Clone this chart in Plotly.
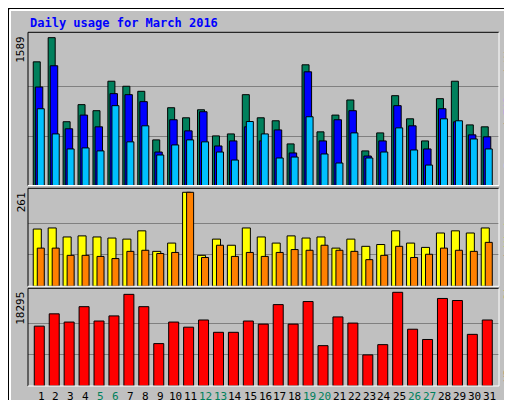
import plotly.graph_objects as go

days = list(range(1, 32))
weekend = [5, 6, 12, 13, 19, 20, 26, 27]
hits = [1326,1585,684,867,802,1118,1064,1010,489,834,726,812,532,553,974,726,694,446,1294,575,755,917,371,564,963,715,478,931,1118,650,629]
files = [1056,1284,608,755,629,985,974,899,359,705,586,791,424,478,629,478,596,349,1219,478,705,802,316,478,856,640,392,823,683,543,522]
pages = [823,553,392,403,371,856,468,640,327,435,489,468,359,273,686,553,295,305,737,338,241,564,295,359,618,381,219,715,694,499,392]
visits = [159,162,137,140,137,134,131,154,97,120,261,86,131,114,162,137,120,140,134,137,106,131,111,116,154,120,108,148,154,148,162]
sites = [106,106,86,86,83,77,97,100,91,94,261,80,114,83,94,83,94,102,100,114,100,97,74,86,111,80,89,106,100,97,122]
kbytes = [11685,14089,12486,15491,12686,13687,17894,15491,8279,12486,11485,12886,10484,10484,12686,12085,15891,12085,16491,7879,13487,12286,6077,8078,18295,11084,9080,17093,16692,10084,12886]
maxes = [1589, 261, 18295]

W, H = 512, 400
def px(x): return x / W
def py(y): return 1 - y / H

X0, X1 = 20, 491
panels = [(24.3, 177.5), (180.3, 278.3), (280.3, 378.0)]
x_range = [1 - 13 / 14.93, 31 + 10 / 14.93]

fig = go.Figure()
def bars(vals, color, off, w, ax):
    fig.add_trace(go.Bar(x=days, y=vals, offset=off, width=w, marker_color=color,
                         marker_line_color="black", marker_line_width=1,
                         xaxis="x" + ax, yaxis="y" + ax, showlegend=False, hoverinfo="skip"))

bars(hits, "#00805c", -0.52, 0.47, "")
bars(files, "#0000ff", -0.38, 0.5, "")
bars(pages, "#00c0ff", -0.25, 0.47, "")
bars(visits, "#ffff00", -0.52, 0.54, "2")
bars(sites, "#ff8000", -0.25, 0.47, "2")
bars(kbytes, "#ff0000", -0.45, 0.67, "3")

layout = dict(width=W, height=H, margin=dict(l=0, r=0, t=0, b=0, autoexpand=False),
              paper_bgcolor="#c0c0c0", plot_bgcolor="#c0c0c0", barmode="overlay",
              font=dict(family="DejaVu Sans Mono", size=11, color="black"))
tops = [1589 * (177.5 - 24.3) / (177.5 - 29.3), 261 * (278.3 - 180.3) / (278.3 - 184.3),
        18295 * (378 - 280.3) / (378 - 284.3)]
for i, (t, b) in enumerate(panels):
    s = "" if i == 0 else str(i + 1)
    layout["xaxis" + s] = dict(domain=[px(X0), px(X1)], range=x_range, anchor="y" + s,
                              showgrid=False, zeroline=False, fixedrange=True,
                              showticklabels=False, ticks="", automargin=False)
    m = maxes[i]
    layout["yaxis" + s] = dict(domain=[py(b), py(t)], range=[0, tops[i]], anchor="x" + s,
                              tickvals=[m / 3, 2 * m / 3], showticklabels=False, automargin=False,
                              gridcolor="#808080", gridwidth=1, zeroline=False, fixedrange=True)
fig.update_layout(**layout)

shapes = []
for (t, b) in panels:
    shapes.append(dict(type="line", xref="paper", yref="paper", x0=px(X0), x1=px(X1), y0=py(t), y1=py(t), line=dict(color="black", width=1)))
    shapes.append(dict(type="line", xref="paper", yref="paper", x0=px(X0), x1=px(X0), y0=py(t), y1=py(b), line=dict(color="black", width=1)))
    shapes.append(dict(type="line", xref="paper", yref="paper", x0=px(X0), x1=px(X1), y0=py(b), y1=py(b), line=dict(color="white", width=1)))
    shapes.append(dict(type="line", xref="paper", yref="paper", x0=px(X1), x1=px(X1), y0=py(t), y1=py(b), line=dict(color="white", width=1)))
shapes.append(dict(type="rect", xref="paper", yref="paper", x0=0, x1=1, y0=0, y1=1, line=dict(color="black", width=2)))
shapes.append(dict(type="line", xref="paper", yref="paper", x0=px(2), x1=px(508), y0=py(2), y1=py(2), line=dict(color="white", width=2)))
shapes.append(dict(type="line", xref="paper", yref="paper", x0=px(2), x1=px(2), y0=py(2), y1=py(397), line=dict(color="white", width=2)))
shapes.append(dict(type="line", xref="paper", yref="paper", x0=px(2), x1=px(509), y0=py(396), y1=py(396), line=dict(color="#808080", width=3)))
shapes.append(dict(type="line", xref="paper", yref="paper", x0=px(508), x1=px(508), y0=py(2), y1=py(397), line=dict(color="#808080", width=3)))
fig.update_layout(shapes=shapes)

ann = []
ann.append(dict(text="<b>Daily usage for March 2016</b>", x=px(20), y=py(15), xref="paper", yref="paper",
                xanchor="left", yanchor="middle", showarrow=False, font=dict(color="#0000ff", size=12, family="DejaVu Sans Mono")))
for d in days:
    ann.append(dict(text=str(d), x=d, y=py(388), xref="x3", yref="paper", xanchor="center", yanchor="middle",
                    showarrow=False, font=dict(size=11, color="#00805c" if d in weekend else "black")))
for (t, b), m in zip(panels, maxes):
    ann.append(dict(text=str(m), x=px(13), y=py(t + 2), xref="paper", yref="paper", textangle=-90,
                    xanchor="center", yanchor="top", showarrow=False, font=dict(size=11)))
ann.append(dict(text='<span style="color:#00c0ff">Pages</span> / <span style="color:#0000ff">Files</span> / <span style="color:#00805c">Hits</span>',
                x=px(500), y=py(26), xref="paper", yref="paper", textangle=-90, xanchor="center", yanchor="top", showarrow=False, font=dict(size=11)))
ann.append(dict(text='<span style="color:#ff8000">Sites</span> / <span style="color:#ffff00">Visits</span>',
                x=px(500), y=py(198), xref="paper", yref="paper", textangle=-90, xanchor="center", yanchor="top", showarrow=False, font=dict(size=11)))
ann.append(dict(text='<span style="color:#ff0000">KBytes</span>',
                x=px(500), y=py(376), xref="paper", yref="paper", textangle=-90, xanchor="center", yanchor="bottom", showarrow=False, font=dict(size=11)))
fig.update_layout(annotations=ann)

fig.write_html("out.html")
